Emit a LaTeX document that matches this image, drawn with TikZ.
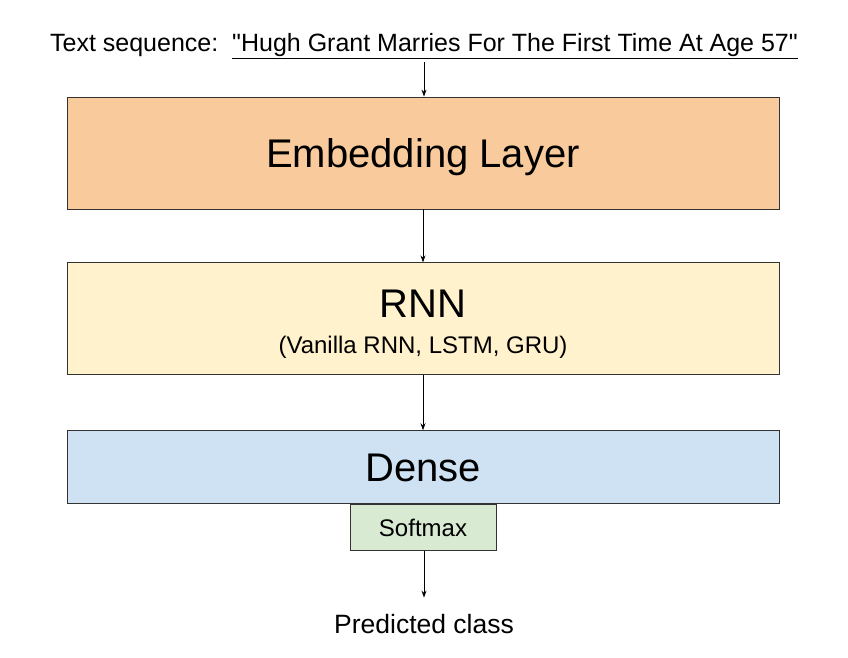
\documentclass[tikz,border=0pt]{standalone}
\usepackage{fontspec}
\setmainfont{Liberation Sans}
\usepackage{tikz}
\usetikzlibrary{arrows.meta, positioning}
\definecolor{colorEmbedding}{HTML}{F9CB9C}
\definecolor{colorRNN}{HTML}{FFF2CC}
\definecolor{colorDense}{HTML}{CFE2F3}
\definecolor{colorSoftmax}{HTML}{D9EAD3}
\newcommand{\layerfont}{\fontsize{40}{48}\selectfont}
\newcommand{\smallfont}{\fontsize{24}{29}\selectfont}
\newcommand{\captionfont}{\fontsize{25}{30}\selectfont}
\tikzset{
  layer/.style={draw=black!80, line width=0.8pt, minimum width=712pt, inner sep=0pt, font=\layerfont, text height=28.6pt, text depth=0pt},
  smallbox/.style={draw=black!80, line width=0.8pt, fill=colorSoftmax, minimum width=146pt, minimum height=46pt, inner sep=0pt, font=\smallfont, text height=17.2pt, text depth=0pt},
}

\begin{document}
\begin{tikzpicture}[x=1pt, y=-1pt, >={Stealth[length=7pt, width=5pt]}, line width=0.8pt]
\useasboundingbox (0,0) rectangle (848,658);
\node[anchor=base, inner sep=0pt, text depth=10pt, font=\captionfont] (seq) at (424,52) {Text sequence:\ \ \underline{\textquotedbl Hugh Grant Marries For The First Time At Age 57\textquotedbl}};
\node[layer, fill=colorEmbedding, minimum height=112pt] (emb) at (423,153) {Embedding Layer};
\node[layer, fill=colorRNN, minimum height=112pt, below=53pt of emb] (rnn) {};
\node[anchor=base, inner sep=0pt, font=\layerfont] (rnntitle) at ([yshift=1pt]rnn.center) {RNN};
\node[anchor=base, inner sep=0pt, font=\smallfont] (rnnsub) at ([yshift=-35pt]rnn.center) {(Vanilla RNN, LSTM, GRU)};
\node[layer, fill=colorDense, minimum height=73pt, below=55pt of rnn] (dense) {Dense};
\node[smallbox, anchor=north] (soft) at (dense.south) {Softmax};
\node[anchor=base, inner sep=0pt, text height=35pt, font=\fontsize{26.5}{31}\selectfont] (pred) at (424,633) {Predicted class};
\draw[->] (seq.south) -- (seq.south |- emb.north);
\draw[->] (emb) -- (rnn);
\draw[->] (rnn) -- (dense);
\draw[->] (soft.south -| pred.north) -- (pred.north);
\end{tikzpicture}
\end{document}
